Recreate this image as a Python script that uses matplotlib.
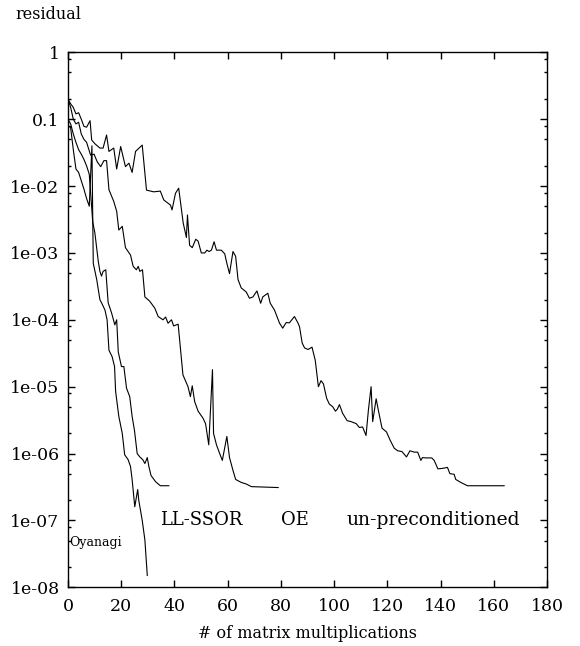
import matplotlib
matplotlib.use('Agg')
import matplotlib.pyplot as plt
from matplotlib.ticker import FixedLocator, LogLocator, NullFormatter

plt.rcParams['font.family'] = ['DejaVu Serif']

# Residual histories (matrix multiplications vs residual)
oyanagi_x = [0, 1, 2, 3, 4, 5, 6, 7, 8, 9, 9.5, 10.8, 12, 12.6, 13.9, 14.7, 15.4, 16.6, 17.5,
             17.9, 19.1, 20.4, 21.3, 22.6, 23.5, 24.1, 25.1, 26.2, 26.6, 27.9, 28.9, 29.8]
oyanagi_y = [0.08, 0.075, 0.035, 0.018, 0.016, 0.012, 0.009, 0.0065, 0.005, 0.04, 7e-4, 4e-4,
             2e-4, 1.8e-4, 1.4e-4, 1e-4, 3.5e-5, 2.8e-5, 2e-5, 8.5e-6, 3.6e-6, 2e-6, 9.6e-7,
             8.1e-7, 6.4e-7, 4.1e-7, 1.6e-7, 2.9e-7, 2e-7, 1e-7, 5.1e-8, 1.5e-8]

llssor_x = [0, 1, 2, 3, 4, 5, 6, 7, 8, 9.3, 10.1, 11.4, 12, 12.6, 13.2, 14.2, 15.1, 16.4, 17.6,
            18.3, 18.9, 20.1, 21, 22, 23.2, 24.1, 25, 26, 27, 28.1, 28.9, 29.8, 30.4, 31.2,
            32.9, 34.7, 37.9]
llssor_y = [0.1, 0.085, 0.06, 0.045, 0.035, 0.03, 0.025, 0.02, 0.015, 0.0029, 0.002, 7.4e-4,
            5.3e-4, 4.5e-4, 5.3e-4, 5.6e-4, 1.8e-4, 1.26e-4, 8.4e-5, 1e-4, 3.3e-5, 2e-5, 2e-5,
            9.5e-6, 7.1e-6, 3.6e-6, 2.2e-6, 1e-6, 8.9e-7, 8.1e-7, 7.1e-7, 8.7e-7, 6.4e-7,
            4.7e-7, 3.8e-7, 3.3e-7, 3.3e-7]

oe_x = [0, 1, 2, 3, 4, 5, 6, 7, 8.5, 9.8, 11, 12.3, 13.5, 14.5, 15.4, 17.2, 18.3, 19.1, 20.4,
        21.6, 23.5, 24.5, 25.7, 26.4, 27, 28, 28.9, 30.7, 32.6, 33.9, 35.7, 36.7, 37.6, 38.9,
        39.7, 41.4, 43.2, 45.1, 46, 46.7, 47.6, 48.9, 50.7, 51.7, 52.9, 54.3, 54.7, 55.8, 57,
        58, 59.7, 60.7, 62, 63, 65.1, 67, 68.9, 79]
oe_y = [0.2, 0.15, 0.1, 0.085, 0.09, 0.06, 0.05, 0.045, 0.029, 0.03, 0.023, 0.0195, 0.024,
        0.024, 0.0088, 0.0059, 0.0042, 0.0022, 0.0025, 0.0012, 9.3e-4, 6.3e-4, 5.6e-4, 6.3e-4,
        5.3e-4, 5.6e-4, 2.2e-4, 1.9e-4, 1.5e-4, 1.12e-4, 1e-4, 1.1e-4, 8.9e-5, 1e-4, 8.1e-5,
        8.6e-5, 1.5e-5, 1e-5, 7.1e-6, 1.03e-5, 6e-6, 4.3e-6, 3.4e-6, 2.8e-6, 1.35e-6, 1.8e-5,
        2e-6, 1.35e-6, 1e-6, 7.9e-7, 1.8e-6, 8.7e-7, 5.6e-7, 4.1e-7, 3.7e-7, 3.5e-7, 3.2e-7,
        3.1e-7]

unprec_x = [0, 1, 2, 3, 4, 5, 6, 7, 8.3, 8.9, 10.1, 12, 13.2, 14.5, 15.4, 17.2, 18.3, 19.8,
            21.6, 22.9, 24.1, 25.4, 27.9, 29.5, 32.2, 34.7, 36, 38.5, 39.1, 40.4, 41.6, 43.3,
            44.5, 44.9, 45.7, 46.7, 48, 48.9, 50.1, 51.4, 52.2, 53, 53.9, 54.9, 55.8, 57.6, 58.9,
            59.7, 60.7, 62, 63, 63.9, 65.1, 67, 68.2, 69.5, 71, 72.4, 73.2, 75.1, 76, 77.6, 79.5,
            80.7, 82, 83.2, 85.1, 86.4, 87, 88, 88.9, 90.2, 91.7, 92.9, 94.1, 95.1, 96, 97.2,
            98.2, 99.5, 100.5, 101.2, 102, 103.2, 104.9, 106.4, 108.3, 109.5, 110.7, 112, 112.9,
            113.9, 114.5, 115.8, 116.7, 118, 119.7, 121, 122.6, 123.9, 125.5, 127.2, 128.5,
            130.1, 131.4, 132.6, 133.2, 134.5, 136.7, 137.6, 139, 140.7, 142.6, 143.5, 145.1,
            145.7, 147.6, 150.1, 163.9]
unprec_y = [0.2, 0.17, 0.15, 0.12, 0.125, 0.1, 0.078, 0.076, 0.095, 0.049, 0.043, 0.037, 0.037,
            0.058, 0.033, 0.037, 0.018, 0.039, 0.0195, 0.022, 0.016, 0.033, 0.041, 0.0087,
            0.0082, 0.0084, 0.0062, 0.0052, 0.0044, 0.0078, 0.0093, 0.0028, 0.0017, 0.0037,
            0.0013, 0.0012, 0.0016, 0.0015, 0.001, 0.001, 0.0011, 0.00105, 0.0011, 0.00147,
            0.0011, 0.0011, 9.7e-4, 7e-4, 4.9e-4, 1.05e-3, 8.9e-4, 4e-4, 3e-4, 2.6e-4, 2.1e-4,
            2.2e-4, 2.7e-4, 1.77e-4, 2.2e-4, 2.5e-4, 1.77e-4, 1.4e-4, 8.9e-5, 7.5e-5, 9.1e-5,
            9e-5, 1.12e-4, 9e-5, 7.9e-5, 4.5e-5, 3.8e-5, 3.6e-5, 3.9e-5, 2.5e-5, 1e-5, 1.23e-5,
            1.1e-5, 6.7e-6, 5.5e-6, 5e-6, 4.3e-6, 4.6e-6, 5.4e-6, 4e-6, 3.1e-6, 3e-6, 2.8e-6,
            2.45e-6, 2.5e-6, 1.86e-6, 4.5e-6, 1e-5, 3e-6, 6.6e-6, 4.3e-6, 2.4e-6, 2.1e-6, 1.6e-6,
            1.2e-6, 1.1e-6, 1.07e-6, 8.9e-7, 1.1e-6, 1.05e-6, 1.05e-6, 7.9e-7, 8.7e-7, 8.6e-7,
            8.6e-7, 7.9e-7, 5.9e-7, 6e-7, 6.2e-7, 5e-7, 4.9e-7, 4.1e-7, 3.7e-7, 3.3e-7, 3.3e-7]

xticks = [0, 20, 40, 60, 80, 100, 120, 140, 160, 180]
yticks = [1, 0.1, 1e-2, 1e-3, 1e-4, 1e-5, 1e-6, 1e-7, 1e-8]
ytick_labels = ['1', '0.1', '1e-02', '1e-03', '1e-04', '1e-05', '1e-06', '1e-07', '1e-08']

fig = plt.figure(figsize=(5.8, 6.46), dpi=100)
ax = fig.add_axes([0.1172, 0.0909, 0.8259, 0.8281])

for x, y in [(oyanagi_x, oyanagi_y), (llssor_x, llssor_y), (oe_x, oe_y), (unprec_x, unprec_y)]:
    ax.plot(x, y, color='black', lw=0.8)

ax.set_yscale('log')
ax.set_xlim(0, 180)
ax.set_ylim(1e-8, 1)
ax.xaxis.set_major_locator(FixedLocator(xticks))
ax.set_xticklabels([str(t) for t in xticks])
ax.yaxis.set_major_locator(FixedLocator(yticks))
ax.set_yticklabels(ytick_labels)
ax.yaxis.set_minor_locator(LogLocator(base=10, subs=[2, 5, 8], numticks=20))
ax.yaxis.set_minor_formatter(NullFormatter())

ax.tick_params(which='both', direction='in', top=True, right=True, labelsize=12.5, width=1)
ax.tick_params(which='major', length=5)
ax.tick_params(which='minor', length=2.5)
ax.tick_params(axis='x', pad=8)
ax.tick_params(axis='y', pad=6)
for s in ax.spines.values():
    s.set_linewidth(1)

ax.set_xlabel('# of matrix multiplications', fontsize=11.5, labelpad=7)
fig.text(0.026, 0.977, 'residual', fontsize=11.5, va='center', ha='left')

# curve names along the bottom
ax.text(0.6, 4.7e-8, 'Oyanagi', fontsize=9, va='center', ha='left')
ax.text(34.5, 1.02e-7, 'LL-SSOR', fontsize=13, va='center', ha='left')
ax.text(80.2, 1.02e-7, 'OE', fontsize=13, va='center', ha='left')
ax.text(104.6, 1.02e-7, 'un-preconditioned', fontsize=13.5, va='center', ha='left')

plt.savefig('out.png', dpi=100)
